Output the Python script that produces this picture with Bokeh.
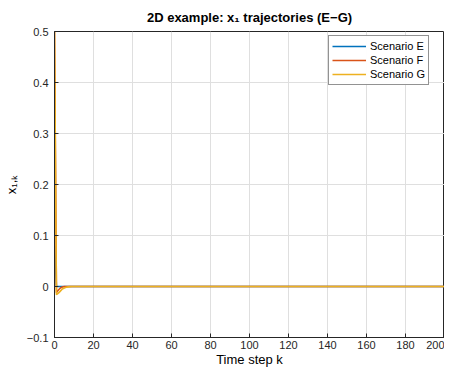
from bokeh.plotting import figure
from bokeh.models import Range1d, Legend, LegendItem, FixedTicker
from bokeh.embed import file_html
from bokeh.resources import INLINE

# Data (transient values; afterwards all trajectories sit at 0)
n_steps = 201
e_start = [0.08, 0.0, 0.0, 0.0, 0.0, 0.0, 0.0, 0.0, 0.0, 0.0]
f_start = [0.5, -0.012, -0.007, -0.003, -0.001, 0.0, 0.0, 0.0, 0.0, 0.0]
g_start = [0.5, -0.016, -0.013, -0.009, -0.005, -0.003, -0.0015, -0.0007, -0.0002, 0.0]
series_names = ["Scenario E", "Scenario F", "Scenario G"]
series_colors = ["#0072BD", "#D95319", "#EDB120"]
x_ticks = [0, 20, 40, 60, 80, 100, 120, 140, 160, 180, 200]
y_ticks = [-0.1, 0, 0.1, 0.2, 0.3, 0.4, 0.5]

k = list(range(n_steps))
def pad(vals):
    return vals + [0.0] * (n_steps - len(vals))
series = [pad(e_start), pad(f_start), pad(g_start)]

FONT = "Liberation Sans"
AX = "#262626"
FW, FH = 390, 306

p = figure(frame_width=FW, frame_height=FH, output_backend="svg", toolbar_location=None,
           x_range=Range1d(0, 200), y_range=Range1d(-0.1, 0.5),
           title="2D example: x\u2081 trajectories (E\u2212G)",
           min_border_left=48, min_border_top=25, min_border_right=0, min_border_bottom=0)

p.title.align = "center"
p.title.text_font = FONT
p.title.text_font_size = "13px"
p.title.text_font_style = "bold"
p.title.text_color = "#000000"
p.title.offset = 0
p.title.standoff = 14

renderers = []
for vals, col in zip(series, series_colors):
    r = p.line(k, vals, line_color=col, line_width=1.6)
    renderers.append(r)

for ax in (p.xaxis[0], p.yaxis[0]):
    ax.axis_line_color = AX
    ax.major_tick_line_color = AX
    ax.minor_tick_line_color = None
    ax.major_tick_in = 4
    ax.major_tick_out = 0
    ax.major_label_text_font = FONT
    ax.major_label_text_font_size = "11px"
    ax.major_label_text_color = AX
    ax.axis_label_text_font = FONT
    ax.axis_label_text_font_size = "13px"
    ax.axis_label_text_font_style = "normal"
    ax.axis_label_text_color = "#000000"

p.xaxis.ticker = FixedTicker(ticks=x_ticks)
p.yaxis.ticker = FixedTicker(ticks=y_ticks)
p.xaxis.axis_label = "Time step k"
p.yaxis.axis_label = "x\u2081,\u2096"
p.xaxis.axis_label_standoff = 0
p.yaxis.axis_label_standoff = 5
p.xaxis.major_label_standoff = 3
p.yaxis.major_label_standoff = 6

p.xgrid.grid_line_color = "#DFDFDF"
p.ygrid.grid_line_color = "#DFDFDF"
p.outline_line_color = AX
p.outline_line_alpha = 1.0
p.background_fill_color = "white"
p.border_fill_color = "white"

legend = Legend(items=[LegendItem(label=nm, renderers=[r]) for nm, r in zip(series_names, renderers)],
                location=(274, FH - 6 - 48))
legend.label_text_font = FONT
legend.label_text_font_size = "11px"
legend.label_text_color = "#000000"
legend.border_line_color = AX
legend.border_line_width = 1
legend.glyph_width = 34
legend.glyph_height = 14
legend.label_height = 14
legend.spacing = 0
legend.padding = 3
legend.margin = 0
legend.label_standoff = 4
p.add_layout(legend)

open("out.html", "w").write(file_html(p, INLINE))
